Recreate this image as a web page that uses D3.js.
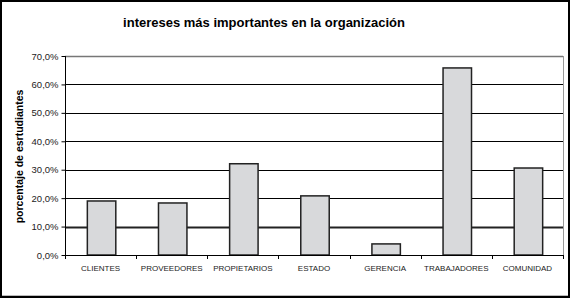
<!DOCTYPE html>
<html>
<head>
<meta charset="utf-8">
<script src="https://cdn.jsdelivr.net/npm/d3@7"></script>
<style>
  body { margin: 0; background: #fff; }
  text { font-family: Arial, "Liberation Sans", sans-serif; }
</style>
</head>
<body>
<div id="chart"></div>
<script>
// Data
let categories = ["CLIENTES", "PROVEEDORES", "PROPIETARIOS", "ESTADO", "GERENCIA", "TRABAJADORES", "COMUNIDAD"];
let values = [0.19, 0.183, 0.321, 0.208, 0.039, 0.658, 0.306];
let yTicks = [0, 0.1, 0.2, 0.3, 0.4, 0.5, 0.6, 0.7];

let W = 571, H = 305;
let margin = {top: 56, right: 8, bottom: 50, left: 65},
    width = 563 - margin.left,
    height = 255 - margin.top;

let svg = d3.select("#chart").append("svg")
    .attr("width", W)
    .attr("height", H);

// outer frame
svg.append("rect")
    .attr("x", 1).attr("y", 1)
    .attr("width", 568).attr("height", 296)
    .attr("fill", "#fff")
    .attr("stroke", "#000")
    .attr("stroke-width", 2);
svg.append("line")
    .attr("x1", 2).attr("x2", 568)
    .attr("y1", 295.5).attr("y2", 295.5)
    .attr("stroke", "#bbb");

let g = svg.append("g")
    .attr("transform", "translate(" + margin.left + "," + margin.top + ")");

let x = d3.scaleBand()
    .domain(categories)
    .range([0, width])
    .paddingInner(0.6)
    .paddingOuter(0.3);

let xBand = d3.scaleBand()
    .domain(categories)
    .range([0, width]);

let y = d3.scaleLinear()
    .domain([0, 0.7])
    .range([height, 0]);

let fmt = function (d) {
    return d3.format(".1f")(d * 100).replace(".", ",") + "%";
};

// gridlines
g.selectAll(".grid")
    .data(yTicks.filter(d => d > 0))
    .enter().append("line")
    .attr("class", "grid")
    .attr("x1", 0).attr("x2", width)
    .attr("y1", d => Math.round(y(d)) + 0.5)
    .attr("y2", d => Math.round(y(d)) + 0.5)
    .attr("stroke", d => d === 0.7 ? "#777" : (d === 0.1 ? "#222" : "#000"))
    .attr("stroke-width", d => d === 0.1 ? 2.2 : (d === 0.7 ? 1.5 : 1));

// right edge of plot area
g.append("line")
    .attr("x1", width + 0.5).attr("x2", width + 0.5)
    .attr("y1", y(0.7)).attr("y2", height)
    .attr("stroke", "#999");

// bars
g.selectAll(".bar")
    .data(values)
    .enter().append("rect")
    .attr("class", "bar")
    .attr("x", (d, i) => x(categories[i]) + 1)
    .attr("y", d => y(d))
    .attr("width", x.bandwidth())
    .attr("height", d => height - y(d))
    .attr("fill", "#d8d9db")
    .attr("stroke", "#222")
    .attr("stroke-width", 1.5);

// y axis
let yAxis = d3.axisLeft(y)
    .tickValues(yTicks)
    .tickFormat(fmt)
    .tickSize(4)
    .tickPadding(3);

let gy = g.append("g")
    .attr("transform", "translate(0.5,0)")
    .call(yAxis);
gy.select(".domain").attr("stroke", "#000").attr("d", "M0," + y(0.7) + "V" + height);
gy.selectAll("text")
    .attr("font-size", 9.5)
    .attr("fill", "#222")
    .attr("font-family", "Arial, 'Liberation Sans', sans-serif");

// x axis
let xAxis = d3.axisBottom(xBand)
    .tickSize(0)
    .tickPadding(10);

let gx = g.append("g")
    .attr("transform", "translate(0," + (height + 0.5) + ")")
    .call(xAxis);
gx.select(".domain").attr("stroke", "#000").attr("d", "M0,0H" + width);
gx.selectAll("text")
    .attr("font-size", 8)
    .attr("fill", "#222")
    .attr("font-family", "Arial, 'Liberation Sans', sans-serif");

// tick marks at the band boundaries
g.selectAll(".xtick")
    .data(categories.concat(["end"]))
    .enter().append("line")
    .attr("class", "xtick")
    .attr("x1", (d, i) => Math.round(i * xBand.step()) + 0.5)
    .attr("x2", (d, i) => Math.round(i * xBand.step()) + 0.5)
    .attr("y1", height)
    .attr("y2", height + 4)
    .attr("stroke", "#000");

// title
svg.append("text")
    .attr("x", 264)
    .attr("y", 27)
    .attr("text-anchor", "middle")
    .attr("font-size", 13)
    .attr("font-weight", "bold")
    .text("intereses más importantes en la organización");

// y axis title
svg.append("text")
    .attr("transform", "translate(23," + (margin.top + height / 2 + 1) + ") rotate(-90)")
    .attr("text-anchor", "middle")
    .attr("font-size", 10.5)
    .attr("font-weight", "bold")
    .text("porcentaje de esrtudiantes");
</script>
</body>
</html>
